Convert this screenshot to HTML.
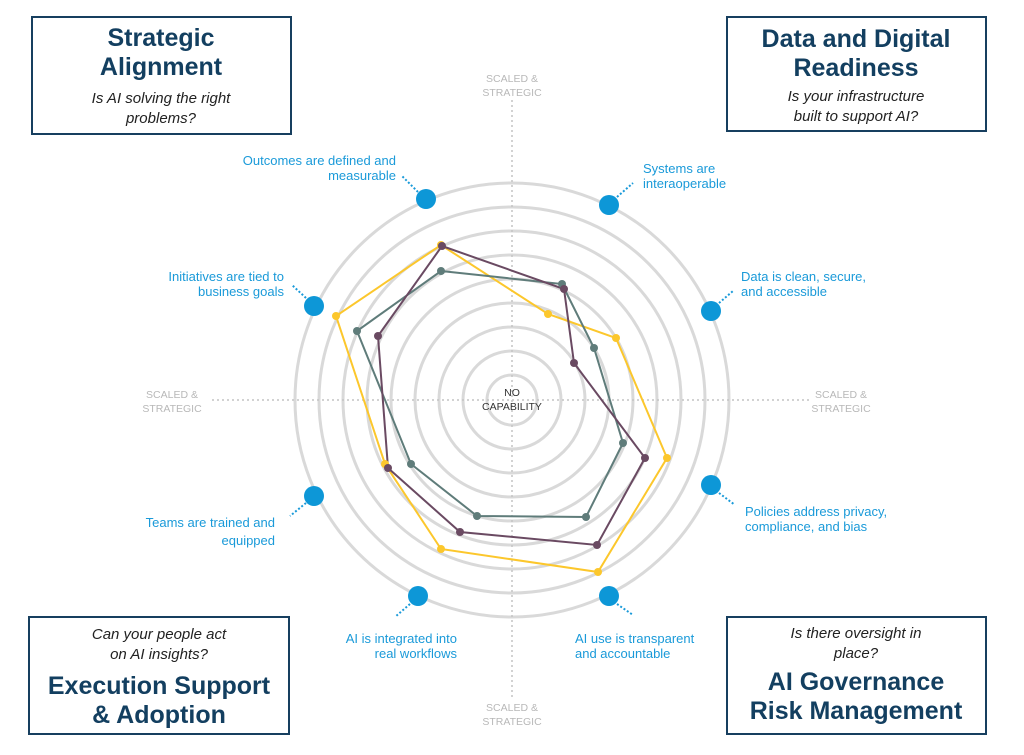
<!DOCTYPE html>
<html><head><meta charset="utf-8"><style>
body{margin:0;background:#fff;}
svg text{font-family:"Liberation Sans",sans-serif;}
.t{font-weight:bold;fill:#133f60;font-size:25px;text-anchor:middle;}
.q{font-style:italic;fill:#222;font-size:15px;text-anchor:middle;}
.l{fill:#1a9ad9;font-size:13px;}
.g{fill:#b8b8b8;font-size:10.5px;text-anchor:middle;}
</style></head><body>
<svg width="1024" height="750" viewBox="0 0 1024 750" xmlns="http://www.w3.org/2000/svg">
<g fill="none" stroke="#d9d9d9" stroke-width="3">
<circle cx="512" cy="400" r="25"/><circle cx="512" cy="400" r="49"/><circle cx="512" cy="400" r="73"/>
<circle cx="512" cy="400" r="97"/><circle cx="512" cy="400" r="121"/><circle cx="512" cy="400" r="145"/>
<circle cx="512" cy="400" r="169"/><circle cx="512" cy="400" r="193"/><circle cx="512" cy="400" r="217"/>
</g>
<g stroke="#c4c4c4" stroke-width="1.5" stroke-dasharray="2 3">
<line x1="512" y1="100" x2="512" y2="700"/><line x1="212" y1="400" x2="812" y2="400"/>
</g>
<text class="g" x="512" y="82">SCALED &amp;</text><text class="g" x="512" y="96">STRATEGIC</text>
<text class="g" x="512" y="711">SCALED &amp;</text><text class="g" x="512" y="725">STRATEGIC</text>
<text class="g" x="172" y="398">SCALED &amp;</text><text class="g" x="172" y="412">STRATEGIC</text>
<text class="g" x="841" y="398">SCALED &amp;</text><text class="g" x="841" y="412">STRATEGIC</text>
<text x="512" y="396" text-anchor="middle" font-size="10.5" fill="#333">NO</text>
<text x="512" y="410" text-anchor="middle" font-size="10.5" fill="#333">CAPABILITY</text>
<g fill="none" stroke-width="2">
<polygon stroke="#fcc72c" points="441,245 548,314 616,338 667,458 598,572 441,549 385,464 336,316"/>
<polygon stroke="#5f7c7a" points="441,271 562,284 594,348 623,443 586,517 477,516 411,464 357,331"/>
<polygon stroke="#6a4a62" points="442,246 564,289 574,363 645,458 597,545 460,532 388,468 378,336"/>
</g>
<g fill="#fcc72c"><circle cx="441" cy="245" r="4"/><circle cx="548" cy="314" r="4"/><circle cx="616" cy="338" r="4"/><circle cx="667" cy="458" r="4"/><circle cx="598" cy="572" r="4"/><circle cx="441" cy="549" r="4"/><circle cx="385" cy="464" r="4"/><circle cx="336" cy="316" r="4"/></g>
<g fill="#5f7c7a"><circle cx="441" cy="271" r="4"/><circle cx="562" cy="284" r="4"/><circle cx="594" cy="348" r="4"/><circle cx="623" cy="443" r="4"/><circle cx="586" cy="517" r="4"/><circle cx="477" cy="516" r="4"/><circle cx="411" cy="464" r="4"/><circle cx="357" cy="331" r="4"/></g>
<g fill="#6a4a62"><circle cx="442" cy="246" r="4"/><circle cx="564" cy="289" r="4"/><circle cx="574" cy="363" r="4"/><circle cx="645" cy="458" r="4"/><circle cx="597" cy="545" r="4"/><circle cx="460" cy="532" r="4"/><circle cx="388" cy="468" r="4"/><circle cx="378" cy="336" r="4"/></g>
<g stroke="#1a9ad9" stroke-width="2" stroke-dasharray="2 2">
<line x1="418" y1="192" x2="402" y2="176"/><line x1="617" y1="197" x2="633" y2="183"/>
<line x1="719" y1="303" x2="733" y2="291"/><line x1="719" y1="493" x2="735" y2="505"/>
<line x1="617" y1="604" x2="633" y2="615"/><line x1="410" y1="604" x2="395" y2="617"/>
<line x1="306" y1="503" x2="290" y2="516"/><line x1="306" y1="298" x2="292" y2="285"/>
</g>
<g fill="#0d97d7">
<circle cx="426" cy="199" r="10"/><circle cx="609" cy="205" r="10"/><circle cx="711" cy="311" r="10"/><circle cx="711" cy="485" r="10"/>
<circle cx="609" cy="596" r="10"/><circle cx="418" cy="596" r="10"/><circle cx="314" cy="496" r="10"/><circle cx="314" cy="306" r="10"/>
</g>
<text class="l" x="396" y="165" text-anchor="end">Outcomes are defined and</text>
<text class="l" x="396" y="180" text-anchor="end">measurable</text>
<text class="l" x="284" y="281" text-anchor="end">Initiatives are tied to</text>
<text class="l" x="284" y="296" text-anchor="end">business goals</text>
<text class="l" x="275" y="527" text-anchor="end">Teams are trained and</text>
<text class="l" x="275" y="545" text-anchor="end">equipped</text>
<text class="l" x="457" y="643" text-anchor="end">AI is integrated into</text>
<text class="l" x="457" y="658" text-anchor="end">real workflows</text>
<text class="l" x="643" y="173">Systems are</text>
<text class="l" x="643" y="188">interaoperable</text>
<text class="l" x="741" y="281">Data is clean, secure,</text>
<text class="l" x="741" y="296">and accessible</text>
<text class="l" x="745" y="516">Policies address privacy,</text>
<text class="l" x="745" y="531">compliance, and bias</text>
<text class="l" x="575" y="643">AI use is transparent</text>
<text class="l" x="575" y="658">and accountable</text>
<g fill="#fff" stroke="#173f5f" stroke-width="2">
<rect x="32" y="17" width="259" height="117"/><rect x="727" y="17" width="259" height="114"/>
<rect x="29" y="617" width="260" height="117"/><rect x="727" y="617" width="259" height="117"/>
</g>
<text class="t" x="161" y="46">Strategic</text><text class="t" x="161" y="75">Alignment</text>
<text class="q" x="161" y="103">Is AI solving the right</text><text class="q" x="161" y="123">problems?</text>
<text class="t" x="856" y="47">Data and Digital</text><text class="t" x="856" y="76">Readiness</text>
<text class="q" x="856" y="101">Is your infrastructure</text><text class="q" x="856" y="121">built to support AI?</text>
<text class="q" x="159" y="639">Can your people act</text><text class="q" x="159" y="659">on AI insights?</text>
<text class="t" x="159" y="694">Execution Support</text><text class="t" x="159" y="723">&amp; Adoption</text>
<text class="q" x="856" y="638">Is there oversight in</text><text class="q" x="856" y="658">place?</text>
<text class="t" x="856" y="690">AI Governance</text><text class="t" x="856" y="719">Risk Management</text>
</svg>
</body></html>
